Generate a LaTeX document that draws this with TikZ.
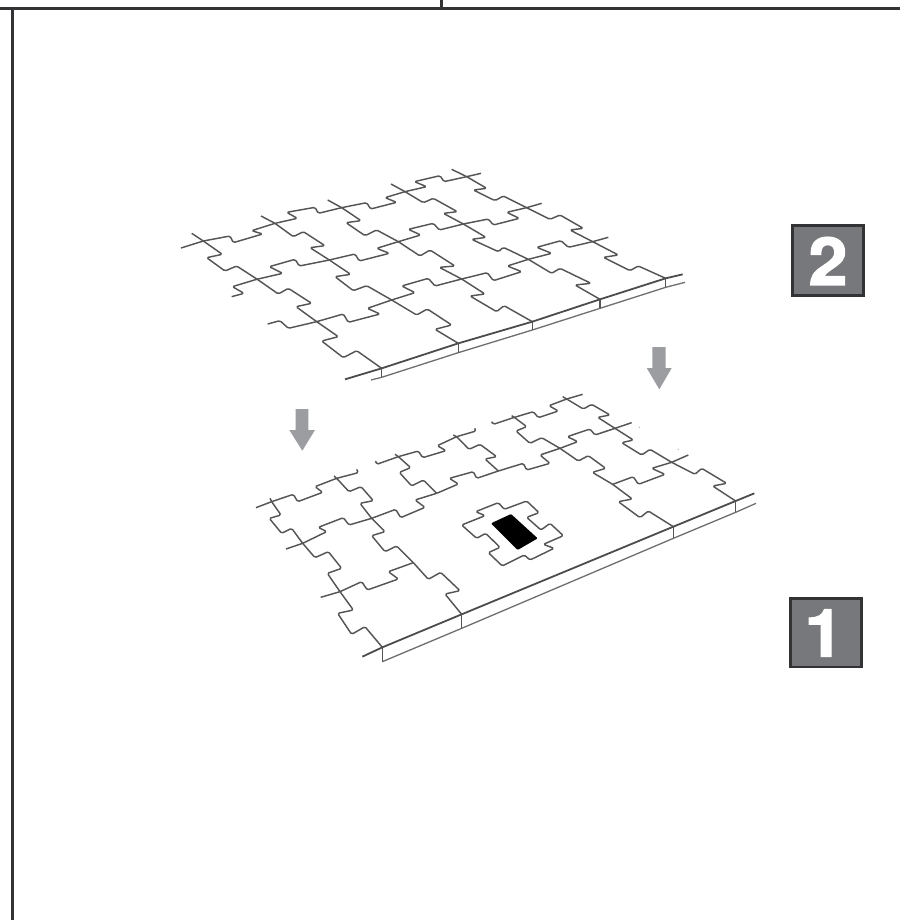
\documentclass[tikz,border=0pt]{standalone}
\usepackage{fontspec}
\newfontfamily\badgefont[FakeBold=2,FakeStretch=1.06]{TeX Gyre Heros Bold}
\definecolor{jigline}{HTML}{555557}
\definecolor{frameline}{HTML}{333335}
\definecolor{arrowgray}{HTML}{9B9DA1}
\definecolor{badgefill}{HTML}{77787B}
\tikzset{
  jig/.style={draw=jigline,line width=1.45pt,rounded corners=1.5pt,line join=round},
  frontedge/.style={draw=jigline!90!black,line width=1.8pt},
  backedge/.style={draw=jigline!85!white,line width=1.3pt},
  tick/.style={draw=jigline,line width=1.5pt},
  framerule/.style={draw=frameline,line width=2.8pt},
  downarrow/.style={fill=arrowgray,draw=none},
  badge/.style={draw=frameline,line width=2.8pt,fill=badgefill},
  badgenum/.style={text=white,inner sep=0pt,font=\badgefont\fontsize{66}{66}\selectfont},
  zoomframe/.style={x=0.33333pt,y=-0.33333pt}
}
\begin{document}
\begin{tikzpicture}[x=1pt,y=-1pt]
\useasboundingbox (0,0) rectangle (900,920);
\fill[white] (0,0) rectangle (900,920);
% page frame
\draw[framerule] (0,8.5) -- (900,8.5);
\draw[framerule] (441.7,0) -- (441.7,8.5);
\draw[framerule] (12.7,8.5) -- (12.7,920);
% upper sheet
\begin{scope}[shift={(170,160)},zoomframe]
 \draw[jig] (33,264)--(100,243)--(180,228)--(190,248)--(278,222)--(245,212)--(315,190)--(382,175)--(350,157)--(435,142)--(445,160)--(515,143)--(590,128)--(602,147)--(680,127)--(645,113)--(705,95)--(770,80)--(733,65)--(810,47)--(822,65)--(890,50)--(933,40);
 \draw[jig] (185,410)--(222,400)--(187,380)--(260,358)--(338,340)--(298,320)--(375,298)--(388,318)--(478,300)--(555,282)--(568,303)--(658,280)--(620,265)--(685,245)--(752,225)--(715,208)--(790,190)--(808,210)--(880,192)--(955,177)--(970,195)--(1048,175)--(1010,157)--(1070,143)--(1115,130);
 \draw[jig] (293,492)--(330,482)--(355,505)--(440,485)--(520,462)--(535,487)--(630,462)--(592,445)--(665,420)--(735,398)--(695,378)--(775,355)--(795,378)--(875,357)--(952,338)--(970,362)--(1055,335)--(1012,318)--(1075,298)--(1145,280)--(1100,262)--(1173,242)--(1195,262)--(1268,245)--(1315,232);
 % columns
 \draw[jig] (65,220)--(100,243)--(157,283)--(110,293)--(165,333)--(200,318)--(262,358)--(325,402)--(355,385)--(425,430)--(378,440)--(440,485)--(505,530)--(455,543)--(520,593)--(560,572)--(635,625);
 \draw[jig] (273,168)--(315,190)--(370,230)--(400,215)--(465,257)--(420,263)--(478,300)--(542,343)--(495,350)--(550,392)--(590,377)--(665,420)--(740,465)--(772,447)--(845,495)--(795,508)--(865,550);
 \draw[jig] (473,120)--(515,143)--(573,182)--(528,188)--(585,227)--(620,210)--(685,245)--(750,288)--(780,270)--(855,318)--(808,322)--(875,357)--(945,402)--(900,408)--(980,455)--(1002,437)--(1087,485);
 \draw[jig] (663,72)--(705,95)--(760,128)--(790,115)--(862,155)--(820,160)--(880,192)--(948,232)--(905,238)--(985,275)--(1000,262)--(1075,298)--(1145,340)--(1170,325)--(1263,370)--(1215,375)--(1290,418);
 \draw[jig] (845,28)--(890,50)--(950,85)--(910,90)--(975,122)--(1000,108)--(1070,143)--(1140,178)--(1170,165)--(1240,205)--(1200,210)--(1268,245)--(1345,285)--(1300,292)--(1380,332)--(1405,318)--(1487,355);
 % front edge
 \draw[frontedge] (525,658)--(635,625)--(865,550)--(1087,485)--(1290,418)--(1487,355)--(1538,343);
 \draw[backedge] (603,660)--(635,652)--(865,578)--(1087,510)--(1290,445)--(1487,382)--(1545,367);
 \draw[tick] (635,625)--(635,652) (865,550)--(865,578) (1087,485)--(1087,510) (1290,418)--(1290,445) (1487,355)--(1487,382);
\end{scope}
% lower sheet
\begin{scope}[shift={(250,385)},zoomframe]
 \draw[jig] (18,368)--(65,350)--(130,328)--(143,350)--(218,322)--(195,305)--(260,280)--(325,263)--(320,253);
 \draw[jig] (60,340)--(65,350)--(93,390)--(58,400)--(95,445)--(125,430)--(158,475)--(195,518)--(235,500)--(275,550)--(232,565)--(270,620)--(310,675)--(263,685)--(305,748)--(345,725)--(397,787);
 \draw[jig] (252,273)--(260,280)--(297,320)--(333,305)--(370,347)--(330,355)--(365,400)--(405,440)--(365,452)--(405,500)--(440,483)--(490,533)--(535,583)--(572,562)--(630,617)--(585,627)--(635,688);
 \draw[jig] (108,492)--(158,475)--(230,440)--(205,427)--(280,398)--(297,420)--(365,400)--(437,373)--(452,398)--(525,367)--(495,345)--(560,325)--(625,297)--(598,280)--(670,260)--(680,280)--(745,258)--(820,235)--(830,255)--(900,235)--(870,210)--(930,190)--(983,170)--(952,155)--(1020,132)--(1035,150)--(1095,130)--(1145,113);
 \draw[jig] (212,637)--(270,620)--(335,590)--(352,615)--(445,582)--(415,560)--(490,533);
 \draw[jig] (377,228)--(380,238)--(445,215)--(505,198)--(518,218)--(588,197)--(562,182)--(620,155)--(678,138)--(674,130);
 \draw[jig] (435,208)--(445,215)--(482,248)--(448,262)--(485,303)--(520,285)--(560,325);
 \draw[jig] (610,150)--(620,155)--(657,193)--(690,178)--(740,215)--(705,222)--(745,258);
 \draw[jig] (725,110)--(730,118)--(790,98)--(850,80)--(865,98)--(925,78)--(897,62)--(950,42)--(998,28);
 \draw[jig] (938,35)--(950,42)--(1000,72)--(1025,58)--(1080,90)--(1043,97)--(1095,130)--(1150,165)--(1115,173)--(1175,210)--(1200,193)--(1265,232)--(1335,268)--(1355,250)--(1430,295)--(1388,303)--(1457,348);
 \draw[jig] (785,92)--(797,100)--(830,125)--(798,138)--(840,175)--(875,158)--(930,190)--(985,228)--(1015,212)--(1067,250)--(1027,262)--(1088,298)--(1147,342)--(1105,350)--(1170,398)--(1195,378)--(1270,425);
 \draw[jig] (1088,298)--(1150,275)--(1165,298)--(1245,268)--(1205,250)--(1265,232)--(1315,210);
 % front edge
 \draw[frontedge] (337,815)--(397,787)--(635,688)--(1270,425)--(1457,348)--(1513,325);
 \draw[backedge] (397,830)--(635,730)--(1270,460)--(1457,382)--(1518,355);
 \draw[tick] (397,787)--(397,830) (635,688)--(635,730) (1270,425)--(1270,460) (1457,348)--(1457,382);
 % specks
 \fill[gray!60] (1168,127) circle (2.2);
 \fill[gray!60] (1285,193) circle (2.2);
\end{scope}
% loose piece with black hole
\begin{scope}[shift={(455,490)},zoomframe]
 \draw[jig] (20,105)--(90,77)--(62,65)--(130,38)--(148,58)--(215,33)--(252,68)--(215,82)--(258,120)--(285,100)--(325,137)--(265,163)--(297,175)--(225,210)--(208,195)--(142,228)--(100,188)--(135,172)--(92,130)--(65,145)--cycle;
 \fill[black,rounded corners=1pt] (108,100)--(168,72)--(248,145)--(188,180)--cycle;
\end{scope}
% arrows
\path[downarrow] (652.3,347)--(665.7,347)--(665.7,368)--(671.7,368)--(659.3,389.3)--(646.7,368)--(652.3,368)--cycle;
\path[downarrow] (295.7,409)--(308.3,409)--(308.3,430)--(315,430)--(302.3,450.7)--(289.3,430)--(295.7,430)--cycle;
% badges
\draw[badge] (792.5,225.5) rectangle (863.5,295.5);
\node[badgenum] (two) at (828,261) {2};
\draw[badge] (790.5,598.5) rectangle (861.5,667);
\node[badgenum] (one) at (824,633) {1};
\end{tikzpicture}
\end{document}
